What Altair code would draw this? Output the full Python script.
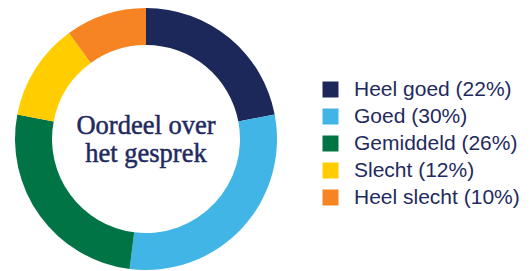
import altair as alt
import pandas as pd

categories = ["Heel goed", "Goed", "Gemiddeld", "Slecht", "Heel slecht"]
values = [22, 30, 26, 12, 10]
colors = ["#1b2859", "#41b6e6", "#007445", "#ffcd00", "#f68423"]
center_lines = ["Oordeel over", "het gesprek"]

labels = [f"{c} ({v}%)" for c, v in zip(categories, values)]
df = pd.DataFrame({"label": labels, "value": values, "idx": list(range(len(values)))})

navy = "#1f2a5e"

arcs = alt.Chart(df).mark_arc(innerRadius=94, outerRadius=131).encode(
    theta=alt.Theta("value:Q", stack=True),
    order=alt.Order("idx:Q"),
    color=alt.Color(
        "label:N",
        scale=alt.Scale(domain=labels, range=colors),
        legend=alt.Legend(
            title=None,
            orient="none",
            legendX=312,
            legendY=71,
            symbolType="square",
            symbolSize=256,
            symbolStrokeWidth=0,
            symbolOpacity=1,
            labelFontSize=21,
            labelFont="Liberation Sans",
            labelColor=navy,
            labelOffset=13,
            rowPadding=5,
            labelLimit=400,
        ),
    ),
)

center = alt.Chart(pd.DataFrame({"t": [center_lines]})).mark_text(
    font="Liberation Serif",
    fontSize=26.5,
    color=navy,
    stroke=navy,
    strokeWidth=0.5,
    lineHeight=28,
    baseline="middle",
    align="center",
    dy=-13,
).encode(text="t")

chart = (
    alt.layer(arcs, center)
    .properties(width=276, height=262, padding=0)
    .configure_view(stroke=None)
)

chart.save("out.html", embed_options={"renderer": "svg", "actions": False})
